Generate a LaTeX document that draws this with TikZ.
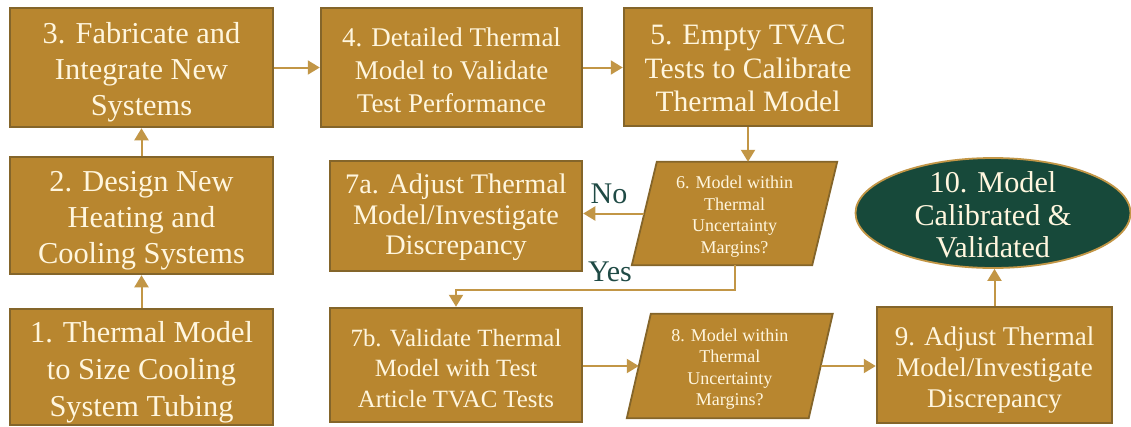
\documentclass[tikz,border=0pt]{standalone}
\usepackage{fontspec}
\setmainfont{Liberation Serif}
\usetikzlibrary{arrows.meta,calc,backgrounds,shapes.geometric}

\definecolor{boxfill}{HTML}{B8862F}
\definecolor{boxedge}{HTML}{84652A}
\definecolor{boxtext}{HTML}{FFF6DE}
\definecolor{linkcol}{HTML}{C29646}
\definecolor{endfill}{HTML}{17493A}
\definecolor{labelcol}{HTML}{1F4A45}

\begin{document}
\begin{tikzpicture}[x=1pt,y=-1pt,
  stepbox/.style={rectangle, fill=boxfill, draw=boxedge, line width=2.5pt, inner sep=0pt},
  steptext/.style={text=boxtext, align=center, inner sep=0pt},
  fs/.style 2 args={font=\fontsize{#1}{#2}\selectfont},
  decision/.style={rectangle, inner sep=0pt},
  pbox/.style={fill=boxfill, draw=boxedge, line width=1.8pt},
  endnode/.style={ellipse, fill=endfill, draw=linkcol, line width=1.8pt, inner sep=0pt},
  answer/.style={text=labelcol, inner sep=0pt, font=\fontsize{30}{30}\selectfont},
  link/.style={draw=linkcol, line width=2pt, -{Triangle[length=12pt,width=14pt]}}
]
\useasboundingbox (0,0) rectangle (1131,426);

% left column
\node[stepbox, minimum width=263, minimum height=116] (n1) at (141.5,367) {};
\node[steptext, fs={30.4}{37}] (n1t) at (141.5,372) {1. Thermal Model\\to Size Cooling\\System Tubing};
\node[stepbox, minimum width=263, minimum height=117] (n2) at (141.5,215.5) {};
\node[steptext, fs={30.4}{36}] (n2t) at (141.5,220.5) {2. Design New\\Heating and\\Cooling Systems};
\node[stepbox, minimum width=263, minimum height=119] (n3) at (141.5,67.5) {};
\node[steptext, fs={30.4}{36}] (n3t) at (141.5,72) {3. Fabricate and\\Integrate New\\Systems};

% top row
\node[stepbox, minimum width=261, minimum height=119] (n4) at (451.5,67.5) {};
\node[steptext, fs={27}{33}] (n4t) at (451.5,70.5) {4. Detailed Thermal\\Model to Validate\\Test Performance};
\node[stepbox, minimum width=248, minimum height=118] (n5) at (748,67) {};
\node[steptext, fs={29.6}{33.5}] (n5t) at (748,68.5) {5. Empty TVAC\\Tests to Calibrate\\Thermal Model};

% middle column
\node[stepbox, minimum width=252, minimum height=110] (n7a) at (456,216) {};
\node[steptext, fs={28.3}{30.5}] (n7at) at (456,217.5) {7a. Adjust Thermal\\Model/Investigate\\Discrepancy};
\node[stepbox, minimum width=252, minimum height=114] (n7b) at (456,365) {};
\node[steptext, fs={24.8}{30.5}] (n7bt) at (456,368.5) {7b. Validate Thermal\\Model with Test\\Article TVAC Tests};

% decisions: text boxes, with the slanted outline drawn behind them
\node[decision, minimum width=180, minimum height=103] (n6) at (734.5,213.5) {};
\node[steptext, fs={18}{21.5}] (n6t) at (734.5,216.5) {6. Model within\\Thermal\\Uncertainty\\Margins?};
\node[decision, minimum width=181.5, minimum height=104] (n8) at (729.75,366) {};
\node[steptext, fs={18}{21.5}] (n8t) at (729.75,369) {8. Model within\\Thermal\\Uncertainty\\Margins?};
\begin{scope}[on background layer]
  \foreach \n/\s in {n6/12.5, n8/12}
    \draw[pbox] ($(\n.north west)+(\s,0)$) -- ($(\n.north east)+(\s,0)$)
      -- ($(\n.south east)-(\s,0)$) -- ($(\n.south west)-(\s,0)$) -- cycle;
\end{scope}

% right column
\node[stepbox, minimum width=235, minimum height=116] (n9) at (994.5,365) {};
\node[steptext, fs={27}{31}] (n9t) at (994.5,370.5) {9. Adjust Thermal\\Model/Investigate\\Discrepancy};
\node[endnode, minimum width=275, minimum height=110] (n10) at (993,213) {};
\node[steptext, fs={30.2}{32.5}] (n10t) at (993,215) {10. Model\\Calibrated \&\\Validated};

% answer labels
\node[answer] (no) at (609,194) {No};
\node[answer] (yes) at (610,272) {Yes};

% connectors
\coordinate (yc) at ($(n7a.south)!0.5!(n7b.north)$);
\draw[link] (n1.north) -- (n2.south);
\draw[link] (n2.north) -- (n3.south);
\draw[link] (n3.east) -- (n4.west);
\draw[link] (n4.east) -- (n4.east -| n5.west);
\draw[link] (n5.south) -- (n5.south |- n6.north);
\draw[link] (n6.west) -- (n6.west -| n7a.east);
\draw[link] (n6.south) -- (n6.south |- yc) -| (n7b.north);
\draw[link] (n8.west -| n7b.east) -- (n8.west);
\draw[link] (n8.east) -- (n8.east -| n9.west);
\draw[link] (n9.north) -- (n9.north |- n10.south);
\end{tikzpicture}
\end{document}
